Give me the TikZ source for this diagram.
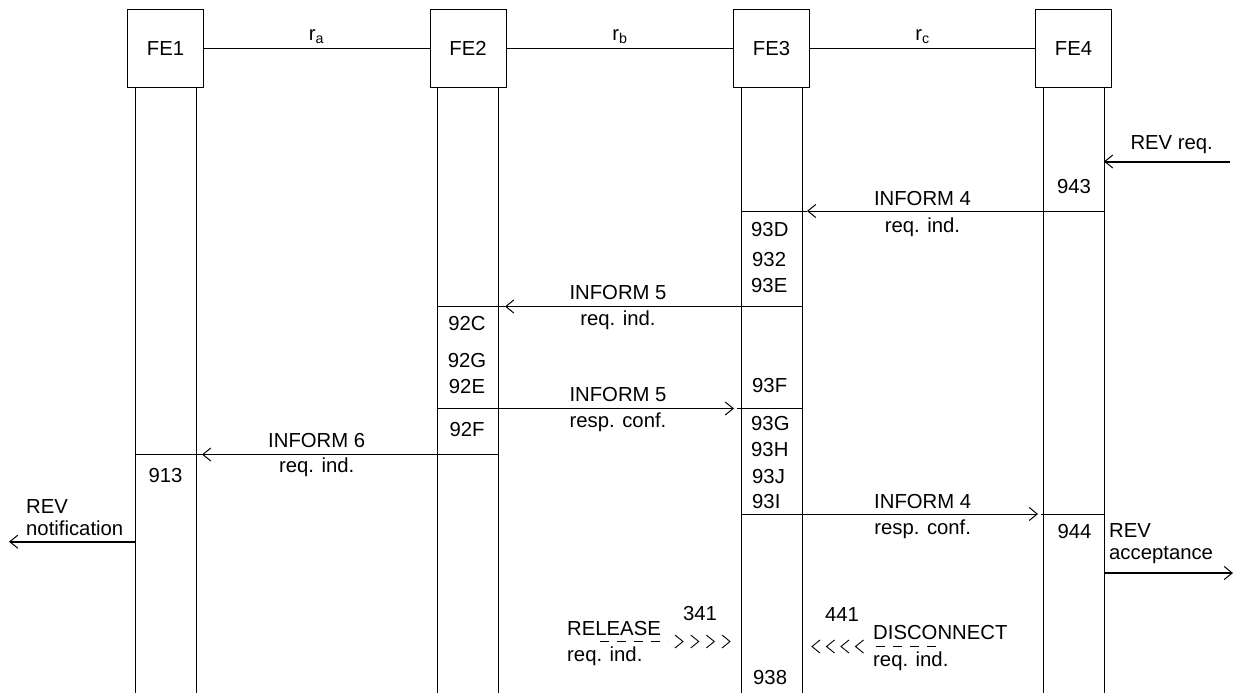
\documentclass[tikz,border=0pt]{standalone}
\usepackage{fontspec}
\setmainfont{Liberation Sans}
\usetikzlibrary{arrows.meta}
\newcommand\diagfont{\fontsize{20.3}{24}\selectfont}
\tikzset{
  febox/.style={draw, line width=1pt, minimum width=76pt, minimum height=77pt, inner sep=0pt},
  lbl/.style={inner sep=0pt},
  lblw/.style={inner sep=0pt, anchor=west},
  sepline/.style={line width=1pt},
  msg/.style={line width=1pt, -{Straight Barb[length=8pt,width=13pt]}},
  extmsg/.style={line width=2pt, -{Straight Barb[length=8pt,width=13pt,line width=1pt]}},
  dashline/.style={line width=1pt, dash pattern=on 9pt off 8pt},
  chev/.style={line width=0.9pt}
}
\begin{document}
\begin{tikzpicture}[x=1pt,y=-1pt, every node/.style={font=\diagfont}]
\useasboundingbox (0,0) rectangle (1237,693);
% functional entities
\node[febox] (fe1) at (165.5,48.5) {FE1};
\node[febox] (fe2) at (468,48.5) {FE2};
\node[febox] (fe3) at (771.5,48.5) {FE3};
\node[febox] (fe4) at (1073.5,48.5) {FE4};
% relationships
\draw[line width=1pt] (fe1) -- (fe2);
\draw[line width=1pt] (fe2) -- (fe3);
\draw[line width=1pt] (fe3) -- (fe4);
\node[lbl] (ra) at (316.5,37) {r\textsubscript{a}};
\node[lbl] (rb) at (620,37) {r\textsubscript{b}};
\node[lbl] (rc) at (922.5,37) {r\textsubscript{c}};
% lifelines
\foreach \n in {1,2,3,4}{
  \draw[line width=1pt] ([xshift=-30.5pt]fe\n.south) -- ++(0,606);
  \draw[line width=1pt] ([xshift=30.5pt]fe\n.south) -- ++(0,606);
}
% named end points
\coordinate (revreqA) at (1230,161.5);
\coordinate (revreqB) at (1104,161.5);
\coordinate (i4a) at (1104,211);
\coordinate (i4b) at (1043,211);
\coordinate (i4c) at (807,211);
\coordinate (i4d) at (741,211);
\coordinate (i5a) at (802,306.5);
\coordinate (i5b) at (741,306.5);
\coordinate (i5c) at (505,306.5);
\coordinate (i5d) at (437.5,306.5);
\coordinate (i5ra) at (437.5,408.5);
\coordinate (i5rb) at (498.5,408.5);
\coordinate (i5rc) at (734,408.5);
\coordinate (i5rd) at (737,408.5);
\coordinate (i5re) at (802,408.5);
\coordinate (i6a) at (498.5,454.5);
\coordinate (i6b) at (437.5,454.5);
\coordinate (i6c) at (202,454.5);
\coordinate (i6d) at (135,454.5);
\coordinate (i4ra) at (741,514);
\coordinate (i4rb) at (802,514);
\coordinate (i4rc) at (1038,514);
\coordinate (i4rd) at (1041,514);
\coordinate (i4re) at (1104,514);
\coordinate (revnA) at (135,541.7);
\coordinate (revnB) at (9,541.7);
\coordinate (revaA) at (1104,573);
\coordinate (revaB) at (1233,573);
% REV req.
\draw[extmsg] (revreqA) -- (revreqB);
\node[lbl] (trevreq) at (1171.7,145) {REV req.};
\node[lbl] (t943) at (1074,187) {943};
% INFORM 4 req. ind.
\draw[sepline] (i4a) -- (i4b);
\draw[msg] (i4b) -- (i4c);
\draw[sepline] (i4c) -- (i4d);
\node[lbl] (ti4a) at (922.5,198.5) {INFORM 4};
\node[lbl] (ti4b) at (922.5,227) {req. ind.};
\node[lblw] (t93D) at (751,230) {93D};
\node[lblw] (t932) at (752,260) {932};
\node[lblw] (t93E) at (751,286) {93E};
% INFORM 5 req. ind.
\draw[sepline] (i5a) -- (i5b);
\draw[msg] (i5b) -- (i5c);
\draw[sepline] (i5c) -- (i5d);
\node[lbl] (ti5a) at (618,292.7) {INFORM 5};
\node[lbl] (ti5b) at (618,320) {req. ind.};
\node[lbl] (t92C) at (467,324) {92C};
\node[lbl] (t92G) at (467,360.7) {92G};
\node[lbl] (t92E) at (467,386.7) {92E};
\node[lblw] (t93F) at (752,386) {93F};
% INFORM 5 resp. conf.
\draw[sepline] (i5ra) -- (i5rb);
\draw[msg] (i5rb) -- (i5rc);
\draw[sepline] (i5rd) -- (i5re);
\node[lbl] (ti5ra) at (618,395) {INFORM 5};
\node[lbl] (ti5rb) at (618,422.5) {resp. conf.};
\node[lbl] (t92F) at (467,429.5) {92F};
\node[lblw] (t93G) at (751,424) {93G};
\node[lblw] (t93H) at (751,450) {93H};
\node[lblw] (t93J) at (752,476.5) {93J};
\node[lblw] (t93I) at (752,501.7) {93I};
% INFORM 6 req. ind.
\draw[sepline] (i6a) -- (i6b);
\draw[msg] (i6b) -- (i6c);
\draw[sepline] (i6c) -- (i6d);
\node[lbl] (ti6a) at (316.7,440.7) {INFORM 6};
\node[lbl] (ti6b) at (316.7,467.5) {req. ind.};
\node[lbl] (t913) at (165.5,476) {913};
% REV notification
\draw[extmsg] (revnA) -- (revnB);
\node[lblw] (trevn1) at (26,506.7) {REV};
\node[lblw] (trevn2) at (26,528) {notification};
% INFORM 4 resp. conf.
\draw[sepline] (i4ra) -- (i4rb);
\draw[msg] (i4rb) -- (i4rc);
\draw[sepline] (i4rd) -- (i4re);
\node[lbl] (ti4ra) at (922.7,501.7) {INFORM 4};
\node[lbl] (ti4rb) at (922.7,529) {resp. conf.};
\node[lbl] (t944) at (1074.5,531.7) {944};
% REV acceptance
\draw[extmsg] (revaA) -- (revaB);
\node[lblw] (treva1) at (1109,530.5) {REV};
\node[lblw] (treva2) at (1109,555.5) {acceptance};
% RELEASE
\node[lbl] (t341) at (700,613.3) {341};
\node[lblw] (trel1) at (567,628.5) {RELEASE};
\node[lblw] (trel2) at (567,656) {req. ind.};
\draw[dashline] (600,641.5) -- (668,641.5);
\foreach \x in {683,698.7,714.3,730} \draw[chev] (\x-8,635) -- (\x,641.5) -- (\x-8,648);
% DISCONNECT
\node[lbl] (t441) at (842,614.5) {441};
\node[lblw] (tdis1) at (873,633) {DISCONNECT};
\node[lblw] (tdis2) at (873,661.5) {req. ind.};
\draw[dashline] (876,646.5) -- (942,646.5);
\foreach \x in {812,826.5,841,855.5} \draw[chev] (\x+8,640) -- (\x,646.5) -- (\x+8,653);
\node[lblw] (t938) at (753,677.5) {938};
\end{tikzpicture}
\end{document}
